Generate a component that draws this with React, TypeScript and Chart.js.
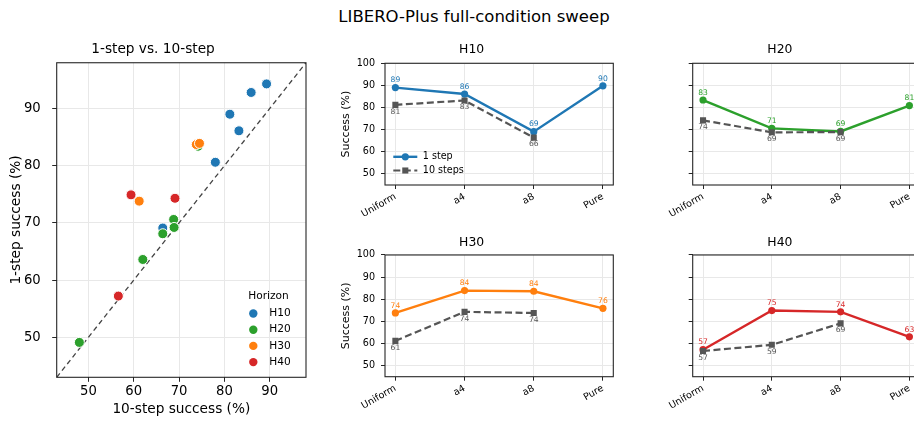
import React, { useEffect, useRef } from 'react';
import { Chart, registerables } from 'chart.js';

Chart.register(...registerables);

const FONT = "'DejaVu Sans', sans-serif";

// ---------------- Data ----------------
const HORIZONS = ['H10', 'H20', 'H30', 'H40'];
const HORIZON_COLORS = ['#1f77b4', '#2ca02c', '#ff7f0e', '#d62728'];
const TEN_STEP_COLOR = '#555555';

// Scatter: 10-step success (x) vs 1-step success (y)
const scatterH10TenStep = [89.3, 85.9, 81.2, 83.2, 78.0, 66.4];
const scatterH10OneStep = [94.3, 92.8, 89.0, 86.1, 80.6, 69.1];
const scatterH20TenStep = [48.0, 62.0, 66.4, 68.8, 68.9, 74.2];
const scatterH20OneStep = [49.1, 63.6, 68.1, 70.6, 69.2, 83.4];
const scatterH30TenStep = [73.8, 74.5, 61.2];
const scatterH30OneStep = [83.7, 83.9, 73.8];
const scatterH40TenStep = [59.4, 69.1, 56.6];
const scatterH40OneStep = [74.9, 74.3, 57.2];
const diagonalEnds = [43, 98];
const scatterTicks = [50, 60, 70, 80, 90];

// Per-horizon sweeps
const CONDITIONS = ['Uniform', 'a4', 'a8', 'Pure'];
const h10OneStep = [89.0, 86.1, 69.1, 89.8];
const h10TenSteps = [81.2, 83.2, 66.4, null];
const h20OneStep = [83.4, 70.6, 69.2, 80.9];
const h20TenSteps = [74.2, 68.8, 68.9, null];
const h30OneStep = [73.8, 83.9, 83.6, 75.9];
const h30TenSteps = [61.2, 74.3, 73.8, null];
const h40OneStep = [57.2, 74.9, 74.3, 63.0];
const h40TenSteps = [56.6, 59.4, 69.1, null];
const successTicks = [50, 60, 70, 80, 90, 100];

// ---------------- Plugins ----------------
const framePlugin = {
  id: 'frame',
  afterDatasetsDraw(chart: any) {
    const { ctx, chartArea } = chart;
    ctx.save();
    ctx.strokeStyle = '#262626';
    ctx.lineWidth = 1.1;
    ctx.strokeRect(chartArea.left, chartArea.top, chartArea.right - chartArea.left, chartArea.bottom - chartArea.top);
    ctx.restore();
  },
};

const valueLabelPlugin = {
  id: 'valueLabels',
  afterDatasetsDraw(chart: any) {
    const ctx = chart.ctx;
    chart.data.datasets.forEach((ds: any, i: number) => {
      const cfg = ds.valueLabel;
      if (!cfg) return;
      const meta = chart.getDatasetMeta(i);
      meta.data.forEach((pt: any, j: number) => {
        const v = ds.data[j].y;
        if (v === null || v === undefined) return;
        ctx.save();
        ctx.font = `7.6px ${FONT}`;
        ctx.fillStyle = cfg.color;
        ctx.textAlign = 'center';
        ctx.textBaseline = 'middle';
        ctx.fillText(String(Math.round(v)), pt.x, pt.y + cfg.dy);
        ctx.restore();
      });
    });
  },
};

function makeLineLegendPlugin(x0: number, y0: number) {
  return {
    id: 'lineLegend',
    afterDatasetsDraw(chart: any) {
      const ctx = chart.ctx;
      const items = chart.data.datasets.slice().sort((a: any, b: any) => a.legendIndex - b.legendIndex);
      items.forEach((ds: any, k: number) => {
        const y = y0 + k * 13.7;
        ctx.save();
        ctx.strokeStyle = ds.borderColor;
        ctx.lineWidth = ds.borderWidth;
        ctx.setLineDash(ds.borderDash || []);
        ctx.beginPath();
        ctx.moveTo(x0, y);
        ctx.lineTo(x0 + 24, y);
        ctx.stroke();
        ctx.setLineDash([]);
        ctx.fillStyle = ds.pointBackgroundColor;
        if (ds.pointStyle === 'rect') {
          const s = ds.pointRadius * Math.SQRT1_2;
          ctx.fillRect(x0 + 12 - s, y - s, 2 * s, 2 * s);
        } else {
          ctx.beginPath();
          ctx.arc(x0 + 12, y, ds.pointRadius, 0, Math.PI * 2);
          ctx.fill();
        }
        ctx.fillStyle = '#000';
        ctx.font = `9.6px ${FONT}`;
        ctx.textAlign = 'left';
        ctx.textBaseline = 'middle';
        ctx.fillText(ds.label, x0 + 29.5, y);
        ctx.restore();
      });
    },
  };
}

const scatterLegendPlugin = {
  id: 'scatterLegend',
  afterDatasetsDraw(chart: any) {
    const ctx = chart.ctx;
    ctx.save();
    ctx.font = `10.6px ${FONT}`;
    ctx.fillStyle = '#000';
    ctx.textAlign = 'left';
    ctx.textBaseline = 'middle';
    ctx.fillText('Horizon', 248.3, 296.5);
    HORIZONS.forEach((h, i) => {
      const y = 313.5 + i * 16.2;
      ctx.fillStyle = HORIZON_COLORS[i];
      ctx.beginPath();
      ctx.arc(253.3, y, 4.2, 0, Math.PI * 2);
      ctx.fill();
      ctx.fillStyle = '#000';
      ctx.fillText(h, 269.3, y);
    });
    ctx.restore();
  },
};

// ---------------- Configs ----------------
const GRID = { color: '#e8e8e8', lineWidth: 1, tickColor: '#262626', tickLength: 4.5, tickWidth: 1 };

function scatterConfig(): any {
  const groups = [
    [scatterH10TenStep, scatterH10OneStep],
    [scatterH20TenStep, scatterH20OneStep],
    [scatterH30TenStep, scatterH30OneStep],
    [scatterH40TenStep, scatterH40OneStep],
  ];
  const datasets: any[] = [
    {
      type: 'line',
      label: 'y = x',
      data: diagonalEnds.map((v) => ({ x: v, y: v })),
      borderColor: '#444444',
      borderWidth: 1.3,
      borderDash: [5, 3.5],
      pointRadius: 0,
      order: 10,
    },
  ];
  HORIZONS.forEach((h, i) => {
    const [xs, ys] = groups[i];
    datasets.push({
      type: 'scatter',
      label: h,
      data: xs.map((x, j) => ({ x, y: ys[j] })),
      backgroundColor: HORIZON_COLORS[i],
      borderColor: '#ffffff',
      borderWidth: 1,
      pointRadius: 5,
      order: 4 - i,
    });
  });
  const axisTitleFont = { family: FONT, size: 13.7 };
  const tickFont = { family: FONT, size: 13.2 };
  return {
    type: 'scatter',
    data: { datasets },
    options: {
      responsive: false,
      animation: false,
      devicePixelRatio: 1,
      layout: { padding: { left: 0, right: 14, top: 0, bottom: 0 } },
      plugins: {
        legend: { display: false },
        tooltip: { enabled: false },
        title: {
          display: true,
          text: '1-step vs. 10-step',
          color: '#000',
          font: { family: FONT, size: 13.7, weight: 'normal' },
          padding: { top: 41, bottom: 5.3 },
        },
      },
      scales: {
        x: {
          type: 'linear',
          min: 43,
          max: 98,
          afterBuildTicks: (s: any) => { s.ticks = scatterTicks.map((v) => ({ value: v })); },
          afterFit: (s: any) => { s.height = 43.7; },
          grid: GRID,
          border: { display: false },
          ticks: { font: tickFont, color: '#000', padding: 2 },
          title: { display: true, text: '10-step success (%)', color: '#000', font: axisTitleFont, padding: { top: 0, bottom: 2.9 } },
        },
        y: {
          type: 'linear',
          min: 43,
          max: 98,
          afterBuildTicks: (s: any) => { s.ticks = scatterTicks.map((v) => ({ value: v })); },
          afterFit: (s: any) => { s.width = 56.7; },
          grid: GRID,
          border: { display: false },
          ticks: { font: tickFont, color: '#000', padding: 11.5 },
          title: { display: true, text: '1-step success (%)', color: '#000', font: axisTitleFont, padding: { top: 8.7, bottom: 0 } },
        },
      },
    },
    plugins: [framePlugin, scatterLegendPlugin],
  };
}

interface PanelOpts {
  title: string;
  color: string;
  oneStep: (number | null)[];
  tenSteps: (number | null)[];
  showYLabels: boolean;
  legend: boolean;
  titlePadTop: number;
  titlePadBottom: number;
  xHeight: number;
  yWidth: number;
  padRight: number;
}

function panelConfig(o: PanelOpts): any {
  const oneDs = {
    label: '1 step',
    data: o.oneStep.map((y, i) => ({ x: i, y })),
    borderColor: o.color,
    backgroundColor: o.color,
    pointBackgroundColor: o.color,
    pointBorderColor: o.color,
    borderWidth: 2.4,
    pointRadius: 3.6,
    pointBorderWidth: 0,
    pointStyle: 'circle',
    order: 2,
    legendIndex: 0,
    valueLabel: { color: o.color, dy: -7.2 },
  };
  const tenDs = {
    label: '10 steps',
    data: o.tenSteps.map((y, i) => ({ x: i, y })),
    borderColor: TEN_STEP_COLOR,
    backgroundColor: TEN_STEP_COLOR,
    pointBackgroundColor: TEN_STEP_COLOR,
    pointBorderColor: TEN_STEP_COLOR,
    borderWidth: 2.2,
    borderDash: [7, 3.5],
    pointRadius: 4.3,
    pointBorderWidth: 0,
    pointStyle: 'rect',
    spanGaps: false,
    order: 1,
    legendIndex: 1,
    valueLabel: { color: TEN_STEP_COLOR, dy: 6.8 },
  };
  const plugins: any[] = [framePlugin, valueLabelPlugin];
  if (o.legend) plugins.push(makeLineLegendPlugin(63.3, 126.8));
  return {
    type: 'line',
    data: { datasets: [oneDs, tenDs] },
    options: {
      responsive: false,
      animation: false,
      devicePixelRatio: 1,
      layout: { padding: { left: 0, right: o.padRight, top: 0, bottom: 0 } },
      plugins: {
        legend: { display: false },
        tooltip: { enabled: false },
        title: {
          display: true,
          text: o.title,
          color: '#000',
          font: { family: FONT, size: 12.4, weight: 'normal' },
          padding: { top: o.titlePadTop, bottom: o.titlePadBottom },
        },
      },
      scales: {
        x: {
          type: 'linear',
          min: -0.15,
          max: 3.15,
          afterBuildTicks: (s: any) => { s.ticks = CONDITIONS.map((_, i) => ({ value: i })); },
          afterFit: (s: any) => { s.height = o.xHeight; },
          grid: { ...GRID, tickLength: 4 },
          border: { display: false },
          ticks: {
            font: { family: FONT, size: 9.6 },
            color: '#000',
            padding: 2,
            minRotation: 30,
            maxRotation: 30,
            autoSkip: false,
            callback: (_v: any, idx: number) => CONDITIONS[idx],
          },
        },
        y: {
          type: 'linear',
          min: 45,
          max: 100,
          afterBuildTicks: (s: any) => { s.ticks = successTicks.map((v) => ({ value: v })); },
          afterFit: (s: any) => { s.width = o.yWidth; },
          grid: { ...GRID, tickLength: 4 },
          border: { display: false },
          ticks: {
            font: { family: FONT, size: 9.6 },
            color: '#000',
            padding: 6,
            callback: (v: any) => (o.showYLabels ? String(v) : ''),
          },
          title: {
            display: o.showYLabels,
            text: 'Success (%)',
            color: '#000',
            font: { family: FONT, size: 11 },
            padding: { top: 9.3, bottom: 0 },
          },
        },
      },
    },
    plugins,
  };
}

// ---------------- Components ----------------
function ChartCanvas(props: { left: number; top: number; width: number; height: number; make: () => any }) {
  const ref = useRef<HTMLCanvasElement>(null);
  useEffect(() => {
    const chart = new Chart(ref.current as HTMLCanvasElement, props.make());
    return () => chart.destroy();
  }, []);
  return (
    <canvas
      ref={ref}
      width={props.width}
      height={props.height}
      style={{ position: 'absolute', left: props.left, top: props.top, width: props.width, height: props.height }}
    />
  );
}

export default function App() {
  const topPanel = { titlePadTop: 12.6, titlePadBottom: 5.8, xHeight: 40 };
  const bottomPanel = { titlePadTop: 13.6, titlePadBottom: 4.5, xHeight: 44.3 };
  return (
    <div
      style={{
        position: 'fixed',
        left: 0,
        top: 0,
        width: 914,
        height: 421,
        overflow: 'hidden',
        background: '#ffffff',
      }}
    >
      <div
        style={{
          position: 'absolute',
          left: 0,
          width: 948,
          top: 7,
          textAlign: 'center',
          fontFamily: FONT,
          fontSize: 16.5,
          lineHeight: '20px',
          color: '#000',
          whiteSpace: 'nowrap',
        }}
      >
        LIBERO-Plus full-condition sweep
      </div>
      <ChartCanvas left={0} top={0} width={320} height={421} make={scatterConfig} />
      <ChartCanvas
        left={330}
        top={30}
        width={290}
        height={195}
        make={() =>
          panelConfig({ title: 'H10', color: HORIZON_COLORS[0], oneStep: h10OneStep, tenSteps: h10TenSteps, showYLabels: true, legend: true, yWidth: 55, padRight: 6.7, ...topPanel })
        }
      />
      <ChartCanvas
        left={640}
        top={30}
        width={290}
        height={195}
        make={() =>
          panelConfig({ title: 'H20', color: HORIZON_COLORS[1], oneStep: h20OneStep, tenSteps: h20TenSteps, showYLabels: false, legend: false, yWidth: 52.7, padRight: 10.3, ...topPanel })
        }
      />
      <ChartCanvas
        left={330}
        top={222}
        width={290}
        height={199}
        make={() =>
          panelConfig({ title: 'H30', color: HORIZON_COLORS[2], oneStep: h30OneStep, tenSteps: h30TenSteps, showYLabels: true, legend: false, yWidth: 55, padRight: 6.7, ...bottomPanel })
        }
      />
      <ChartCanvas
        left={640}
        top={222}
        width={290}
        height={199}
        make={() =>
          panelConfig({ title: 'H40', color: HORIZON_COLORS[3], oneStep: h40OneStep, tenSteps: h40TenSteps, showYLabels: false, legend: false, yWidth: 52.7, padRight: 10.3, ...bottomPanel })
        }
      />
    </div>
  );
}
